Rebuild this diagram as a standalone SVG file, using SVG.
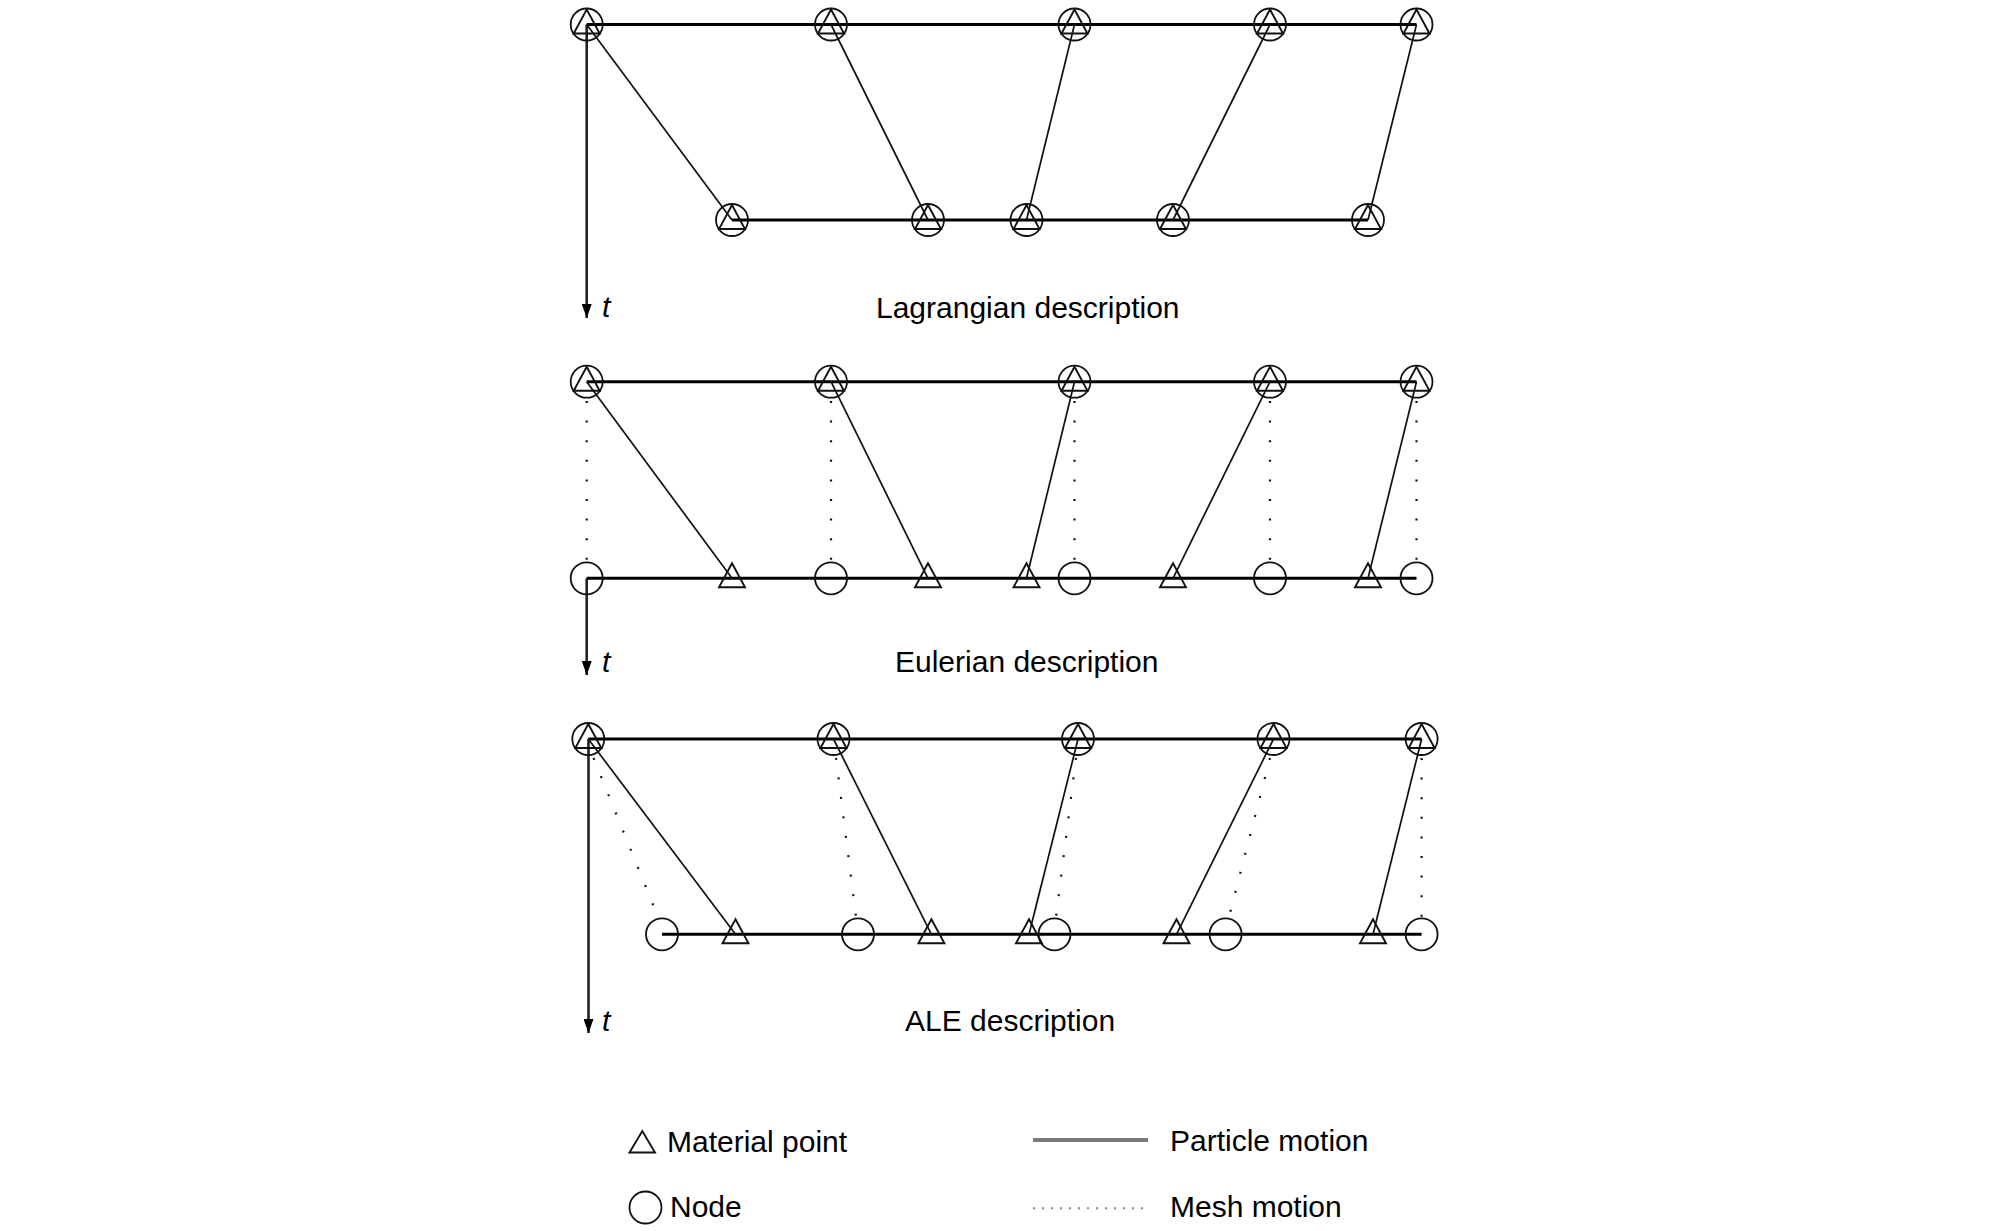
<svg xmlns="http://www.w3.org/2000/svg" width="2008" height="1231" viewBox="0 0 2008 1231">
<style>
.bg{fill:#fff}
.h{stroke:#000;stroke-width:3;fill:none}
.p{stroke:#111;stroke-width:1.7;fill:none}
.m{stroke:#111;stroke-width:2.2;fill:none;stroke-dasharray:2 17.6;stroke-linecap:butt}
.ax{stroke:#222;stroke-width:2.6;fill:none}
.c{fill:none;stroke:#111;stroke-width:1.8}
.tri{fill:none;stroke:#111;stroke-width:1.9;stroke-linejoin:miter}
.lbl{font-family:"Liberation Sans",Arial,sans-serif;font-size:30px;fill:#000}
.t{font-family:"Liberation Sans",Arial,sans-serif;font-size:30px;font-style:italic;fill:#000}
</style>
<defs>
<marker id="arr" viewBox="0 0 14 10" refX="14" refY="5" markerWidth="14" markerHeight="10" markerUnits="userSpaceOnUse" orient="auto">
<path d="M0,0 L14,5 L0,10 Z" fill="#000"/>
</marker>
<circle id="node" r="16" class="c"/>
<path id="mat" d="M0,-15 L13,9 L-13,9 Z" class="tri"/>
</defs>
<rect class="bg" width="2008" height="1231"/>

<!-- Lagrangian -->
<g id="connectors-lagrangian">
<line class="ax" x1="586.7" y1="24.5" x2="586.7" y2="318" marker-end="url(#arr)"/>
<line class="h" x1="586.7" y1="24.5" x2="1416.5" y2="24.5"/>
<line class="h" x1="732" y1="220" x2="1368" y2="220"/>
<line class="p" x1="586.7" y1="24.5" x2="732" y2="220"/>
<line class="p" x1="831" y1="24.5" x2="928" y2="220"/>
<line class="p" x1="1074.5" y1="24.5" x2="1026.5" y2="220"/>
<line class="p" x1="1270" y1="24.5" x2="1173" y2="220"/>
<line class="p" x1="1416.5" y1="24.5" x2="1368" y2="220"/>
</g>
<g id="lag-top-1" transform="translate(586.7,24.5)"><use href="#node"/><use href="#mat"/></g>
<g id="lag-top-2" transform="translate(831,24.5)"><use href="#node"/><use href="#mat"/></g>
<g id="lag-top-3" transform="translate(1074.5,24.5)"><use href="#node"/><use href="#mat"/></g>
<g id="lag-top-4" transform="translate(1270,24.5)"><use href="#node"/><use href="#mat"/></g>
<g id="lag-top-5" transform="translate(1416.5,24.5)"><use href="#node"/><use href="#mat"/></g>
<g id="lag-bot-1" transform="translate(732,220)"><use href="#node"/><use href="#mat"/></g>
<g id="lag-bot-2" transform="translate(928,220)"><use href="#node"/><use href="#mat"/></g>
<g id="lag-bot-3" transform="translate(1026.5,220)"><use href="#node"/><use href="#mat"/></g>
<g id="lag-bot-4" transform="translate(1173,220)"><use href="#node"/><use href="#mat"/></g>
<g id="lag-bot-5" transform="translate(1368,220)"><use href="#node"/><use href="#mat"/></g>
<text class="t" x="602" y="317">t</text>
<text class="lbl" x="876" y="318">Lagrangian description</text>

<!-- Eulerian -->
<g id="connectors-eulerian">
<line class="ax" x1="586.7" y1="578.3" x2="586.7" y2="675" marker-end="url(#arr)"/>
<line class="h" x1="586.7" y1="381.7" x2="1416.5" y2="381.7"/>
<line class="h" x1="586.7" y1="578.3" x2="1416.5" y2="578.3"/>
<line class="p" x1="586.7" y1="381.7" x2="732" y2="578.3"/>
<line class="p" x1="831" y1="381.7" x2="928" y2="578.3"/>
<line class="p" x1="1074.5" y1="381.7" x2="1026.5" y2="578.3"/>
<line class="p" x1="1270" y1="381.7" x2="1173" y2="578.3"/>
<line class="p" x1="1416.5" y1="381.7" x2="1368" y2="578.3"/>
<line class="m" x1="586.7" y1="401" x2="586.7" y2="562"/>
<line class="m" x1="831" y1="401" x2="831" y2="562"/>
<line class="m" x1="1074.5" y1="401" x2="1074.5" y2="562"/>
<line class="m" x1="1270" y1="401" x2="1270" y2="562"/>
<line class="m" x1="1416.5" y1="401" x2="1416.5" y2="562"/>
</g>
<g id="eul-top-1" transform="translate(586.7,381.7)"><use href="#node"/><use href="#mat"/></g>
<g id="eul-top-2" transform="translate(831,381.7)"><use href="#node"/><use href="#mat"/></g>
<g id="eul-top-3" transform="translate(1074.5,381.7)"><use href="#node"/><use href="#mat"/></g>
<g id="eul-top-4" transform="translate(1270,381.7)"><use href="#node"/><use href="#mat"/></g>
<g id="eul-top-5" transform="translate(1416.5,381.7)"><use href="#node"/><use href="#mat"/></g>
<g id="eul-node-1" transform="translate(586.7,578.3)"><use href="#node"/></g>
<g id="eul-node-2" transform="translate(831,578.3)"><use href="#node"/></g>
<g id="eul-node-3" transform="translate(1074.5,578.3)"><use href="#node"/></g>
<g id="eul-node-4" transform="translate(1270,578.3)"><use href="#node"/></g>
<g id="eul-node-5" transform="translate(1416.5,578.3)"><use href="#node"/></g>
<g id="eul-mat-1" transform="translate(732,578.3)"><use href="#mat"/></g>
<g id="eul-mat-2" transform="translate(928,578.3)"><use href="#mat"/></g>
<g id="eul-mat-3" transform="translate(1026.5,578.3)"><use href="#mat"/></g>
<g id="eul-mat-4" transform="translate(1173,578.3)"><use href="#mat"/></g>
<g id="eul-mat-5" transform="translate(1368,578.3)"><use href="#mat"/></g>
<text class="t" x="602" y="672">t</text>
<text class="lbl" x="895" y="672">Eulerian description</text>

<!-- ALE -->
<g id="connectors-ale">
<line class="ax" x1="588.5" y1="739" x2="588.5" y2="1033" marker-end="url(#arr)"/>
<line class="h" x1="588.3" y1="739" x2="1421.6" y2="739"/>
<line class="h" x1="662" y1="934.3" x2="1421.6" y2="934.3"/>
<line class="p" x1="588.3" y1="739" x2="735.5" y2="934.3"/>
<line class="p" x1="833.5" y1="739" x2="931.4" y2="934.3"/>
<line class="p" x1="1078" y1="739" x2="1029" y2="934.3"/>
<line class="p" x1="1273.5" y1="739" x2="1176.5" y2="934.3"/>
<line class="p" x1="1421.6" y1="739" x2="1373" y2="934.3"/>
<line class="m" x1="593.5" y1="758" x2="658" y2="917"/>
<line class="m" x1="836" y1="758" x2="856" y2="917"/>
<line class="m" x1="1076" y1="758" x2="1056" y2="917"/>
<line class="m" x1="1270" y1="758" x2="1229" y2="917"/>
<line class="m" x1="1421.6" y1="758" x2="1421.6" y2="917"/>
</g>
<g id="ale-top-1" transform="translate(588.3,739)"><use href="#node"/><use href="#mat"/></g>
<g id="ale-top-2" transform="translate(833.5,739)"><use href="#node"/><use href="#mat"/></g>
<g id="ale-top-3" transform="translate(1078,739)"><use href="#node"/><use href="#mat"/></g>
<g id="ale-top-4" transform="translate(1273.5,739)"><use href="#node"/><use href="#mat"/></g>
<g id="ale-top-5" transform="translate(1421.6,739)"><use href="#node"/><use href="#mat"/></g>
<g id="ale-node-1" transform="translate(662,934.3)"><use href="#node"/></g>
<g id="ale-node-2" transform="translate(858,934.3)"><use href="#node"/></g>
<g id="ale-node-3" transform="translate(1054.5,934.3)"><use href="#node"/></g>
<g id="ale-node-4" transform="translate(1225.6,934.3)"><use href="#node"/></g>
<g id="ale-node-5" transform="translate(1421.6,934.3)"><use href="#node"/></g>
<g id="ale-mat-1" transform="translate(735.5,934.3)"><use href="#mat"/></g>
<g id="ale-mat-2" transform="translate(931.4,934.3)"><use href="#mat"/></g>
<g id="ale-mat-3" transform="translate(1029,934.3)"><use href="#mat"/></g>
<g id="ale-mat-4" transform="translate(1176.5,934.3)"><use href="#mat"/></g>
<g id="ale-mat-5" transform="translate(1373,934.3)"><use href="#mat"/></g>
<text class="t" x="602" y="1031">t</text>
<text class="lbl" x="905" y="1031">ALE description</text>

<!-- Legend -->
<g id="legend">
<path d="M629.5,1152.5 L655,1152.5 L642.3,1131 Z" class="tri"/>
<text class="lbl" x="667" y="1151.5">Material point</text>
<circle cx="645.5" cy="1207.5" r="16" class="c"/>
<text class="lbl" x="670" y="1217">Node</text>
<line x1="1033" y1="1140" x2="1148" y2="1140" stroke="#7a7a7a" stroke-width="4"/>
<text class="lbl" x="1170" y="1150.5">Particle motion</text>
<line x1="1033" y1="1208.3" x2="1148" y2="1208.3" stroke="#888" stroke-width="2" stroke-dasharray="2 7"/>
<text class="lbl" x="1170" y="1216.5">Mesh motion</text>
</g>
</svg>
